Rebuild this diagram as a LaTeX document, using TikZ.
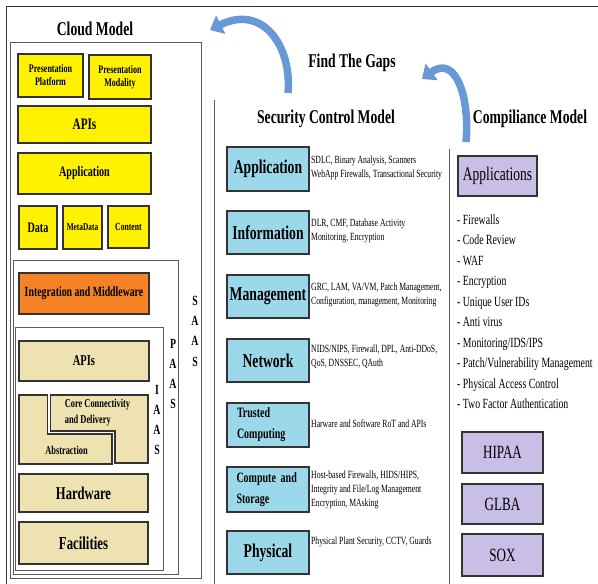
\documentclass[tikz,border=0pt]{standalone}
\usepackage{fontspec}
\setmainfont{Liberation Serif}[FakeStretch=0.7]
\usetikzlibrary{arrows.meta}

\definecolor{cloudyellow}{RGB}{255,242,0}
\definecolor{mwareorange}{RGB}{246,130,38}
\definecolor{iaasbeige}{RGB}{238,227,176}
\definecolor{ctrlblue}{RGB}{155,217,234}
\definecolor{complilac}{RGB}{200,190,230}
\definecolor{gapblue}{RGB}{104,152,214}
\definecolor{frameline}{RGB}{90,90,90}

\newcommand{\titlesize}{\fontsize{19.5}{22}\selectfont\bfseries}
\newcommand{\ctrlsize}{\fontsize{19.5}{22}\selectfont\bfseries}
\newcommand{\descsize}{\fontsize{11}{14}\selectfont}
\newcommand{\ribbonwidth}{7.5pt}

\tikzset{
  layer/.style={draw=black!80, line width=1.1pt, inner sep=0pt, align=center},
  yellowbox/.style={layer, fill=cloudyellow},
  beigebox/.style={layer, fill=iaasbeige},
  ctrlbox/.style={layer, fill=ctrlblue, minimum width=82pt, font=\ctrlsize},
  lilacbox/.style={layer, fill=complilac},
  frame/.style={draw=frameline, line width=0.8pt},
  desc/.style={anchor=west, align=left, inner sep=0pt, font=\descsize},
  stack/.style={align=center, inner sep=0pt, font=\fontsize{14}{20.3}\selectfont\bfseries},
  gaparrow/.style={draw=gapblue, line width=\ribbonwidth, -{Triangle[width=20pt,length=12pt]}}
}

\begin{document}
\begin{tikzpicture}[x=1pt,y=-1pt]
\useasboundingbox (0,0) rectangle (598,584);

% Outer frame and the three nested cloud frames
\draw [draw=black!80, line width=1pt] (598,6) -- (6,6) -- (6,584);
\draw [frame] (10,42) rectangle (201,578);
\draw [frame] (13,260) rectangle (178,574);
\draw [frame] (15,327) rectangle (163,570);

% Column separators
\draw [frame] (214,100) -- (214,584);
\draw [frame] (449,149) -- (449,584);

% Titles
\node [font=\titlesize] (cloudtitle) at (95,29) {Cloud Model};
\node [font=\titlesize] (gaps) at (352,63) {Find The Gaps};
\node [font=\titlesize] (ctrltitle) at (326,119) {Security Control Model};
\node [font=\titlesize] (comptitle) at (530,119) {Compiliance Model};

% Curved arrows
\coordinate (lefttail) at (288,93);
\coordinate (lefthead) at (210,30);
\coordinate (righttail) at (466,142);
\coordinate (righthead) at (422,79);
\draw [gaparrow] (lefttail) .. controls (292,45) and (262,4) .. (lefthead);
\draw [gaparrow] (righttail) .. controls (470,98) and (456,54) .. (righthead);

% Cloud model: SaaS layers
\node [yellowbox, minimum width=65pt, minimum height=43pt, font=\fontsize{11.5}{13}\selectfont\bfseries] (presplat) at (50.5,75.5) {Presentation\\Platform};
\node [yellowbox, minimum width=62pt, minimum height=44pt, font=\fontsize{11.5}{13}\selectfont\bfseries] (presmod) at (120,77) {Presentation\\Modality};
\node [yellowbox, minimum width=133pt, minimum height=37pt, font=\fontsize{16}{18}\selectfont\bfseries] (sapis) at (84.5,124.5) {APIs};
\node [yellowbox, minimum width=133pt, minimum height=41pt, font=\fontsize{14.5}{17}\selectfont\bfseries] (sapp) at (84.5,173.5) {Application};
\node [yellowbox, minimum width=38pt, minimum height=43pt, font=\fontsize{14.5}{17}\selectfont\bfseries] (data) at (38,227.5) {Data};
\node [yellowbox, minimum width=39pt, minimum height=43pt, font=\fontsize{10.5}{12}\selectfont\bfseries] (meta) at (82.5,227.5) {MetaData};
\node [yellowbox, minimum width=41pt, minimum height=42pt, font=\fontsize{11}{13}\selectfont\bfseries] (content) at (128.5,227) {Content};

% PaaS and IaaS layers
\node [layer, fill=mwareorange, minimum width=130pt, minimum height=41pt, font=\fontsize{14}{16}\selectfont\bfseries] (mware) at (84,293.5) {Integration and Middleware};
\node [beigebox, minimum width=130pt, minimum height=40pt, font=\fontsize{15}{17}\selectfont\bfseries] (iapis) at (84,361) {APIs};
\filldraw [layer, fill=iaasbeige] (19,395) -- (47.5,395) -- (47.5,434) -- (112,434) -- (112,464) -- (19,464) -- cycle;
\filldraw [layer, fill=iaasbeige] (50.5,395) -- (148,395) -- (148,463) -- (115,463) -- (115,431) -- (50.5,431) -- cycle;
\node [align=left, inner sep=0pt, font=\fontsize{12}{16}\selectfont\bfseries] (core) at (97.5,413) {Core Connectivity\\and Delivery};
\node [inner sep=0pt, font=\fontsize{12}{14}\selectfont\bfseries] (abstr) at (66.5,450) {Abstraction};
\node [beigebox, minimum width=129pt, minimum height=38pt, font=\fontsize{18}{20}\selectfont\bfseries] (hardware) at (83.5,493) {Hardware};
\node [beigebox, minimum width=129pt, minimum height=42pt, font=\fontsize{18.3}{20}\selectfont\bfseries] (facilities) at (83.5,543) {Facilities};

% Service model letters
\node [stack] (saas) at (195,331) {S\\A\\A\\S};
\node [stack] (paas) at (173,374) {P\\A\\A\\S};
\node [stack] (iaas) at (157,420) {I\\A\\A\\S};

% Security control model
\node [ctrlbox, minimum height=44pt] (capp) at (268,169) {Application};
\node [ctrlbox, minimum height=43pt] (cinfo) at (268,232.5) {Information};
\node [ctrlbox, minimum height=43pt] (cmgmt) at (268,296.5) {Management};
\node [ctrlbox, minimum height=43pt] (cnet) at (268,360.5) {Network};
\node [ctrlbox, minimum height=44pt, text width=62pt, inner xsep=10pt, align=left, font=\fontsize{14.3}{21}\selectfont\bfseries] (ctrust) at (268,425) {Trusted\\Computing};
\node [ctrlbox, minimum height=45pt, text width=63pt, inner xsep=9.5pt, align=left, font=\fontsize{14.3}{21}\selectfont\bfseries] (ccomp) at (268,489.5) {Compute and\\Storage};
\node [ctrlbox, minimum height=43pt] (cphys) at (268,552.5) {Physical};

\node [desc] (dapp) at (311,168) {SDLC, Binary Analysis, Scanners\\WebApp Firewalls, Transactional Security};
\node [desc] (dinfo) at (311,231) {DLR, CMF, Database Activity\\Monitoring, Encryption};
\node [desc] (dmgmt) at (311,295) {GRC, LAM, VA/VM, Patch Management,\\Configuration, management, Monitoring};
\node [desc] (dnet) at (311,357) {NIDS/NIPS, Firewall, DPL, Anti-DDoS,\\QoS, DNSSEC, QAuth};
\node [desc] (dtrust) at (311,424) {Harware and Software RoT and APIs};
\node [desc] (dcomp) at (311,489.5) {Host-based Firewalls, HIDS/HIPS,\\Integrity and File/Log Management\\Encryption, MAsking};
\node [desc] (dphys) at (311,542) {Physical Plant Security, CCTV, Guards};

% Compliance model
\node [lilacbox, minimum width=79pt, minimum height=40pt, font=\fontsize{19.3}{22}\selectfont] (capps) at (497.5,176) {Applications};
\node [anchor=west, align=left, inner sep=0pt, font=\fontsize{14}{20.5}\selectfont] (reqs) at (457,311.5)
  {- Firewalls\\- Code Review\\- WAF\\- Encryption\\- Unique User IDs\\- Anti virus\\- Monitoring/IDS/IPS\\- Patch/Vulnerability Management\\- Physical Access Control\\- Two Factor Authentication};
\node [lilacbox, minimum width=81pt, minimum height=41pt, font=\fontsize{18.7}{21}\selectfont] (hipaa) at (502.5,452.5) {HIPAA};
\node [lilacbox, minimum width=81pt, minimum height=40pt, font=\fontsize{18.7}{21}\selectfont] (glba) at (502.5,504) {GLBA};
\node [lilacbox, minimum width=81pt, minimum height=42pt, font=\fontsize{18.7}{21}\selectfont] (sox) at (502.5,555) {SOX};
\end{tikzpicture}
\end{document}
